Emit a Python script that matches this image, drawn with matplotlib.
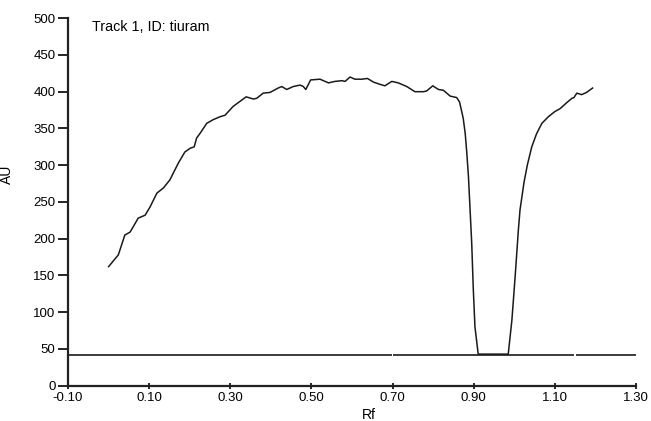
import numpy as np
import matplotlib
matplotlib.use("Agg")
import matplotlib.pyplot as plt
from matplotlib.ticker import FormatStrFormatter

plt.rcParams["font.family"] = ["Liberation Sans", "DejaVu Sans"]
plt.rcParams["axes.unicode_minus"] = False

# densitogram trace
rf = [0.000, 0.024, 0.040, 0.053, 0.073, 0.090, 0.102, 0.119, 0.135, 0.151,
      0.172, 0.188, 0.201, 0.211, 0.217, 0.225, 0.242, 0.258, 0.275, 0.287,
      0.307, 0.339, 0.357, 0.365, 0.381, 0.398, 0.418, 0.427, 0.439, 0.455,
      0.472, 0.480, 0.486, 0.498, 0.521, 0.542, 0.558, 0.575, 0.583, 0.595,
      0.607, 0.624, 0.638, 0.653, 0.669, 0.681, 0.698, 0.714, 0.735, 0.755,
      0.776, 0.784, 0.799, 0.813, 0.825, 0.842, 0.858, 0.865, 0.874, 0.879,
      0.883, 0.887, 0.891, 0.895, 0.899, 0.903, 0.911, 0.985, 0.994, 1.002,
      1.010, 1.014, 1.024, 1.032, 1.043, 1.055, 1.068, 1.084, 1.100, 1.113,
      1.129, 1.142, 1.147, 1.154, 1.166, 1.178, 1.193]
au = [162, 178, 205, 209, 228, 232, 243, 262, 269, 280,
      303, 318, 323, 325, 337, 343, 357, 362, 366, 368,
      380, 393, 390, 391, 398, 399, 405, 407, 403, 407,
      409, 407, 403, 416, 417, 412, 414, 415, 414, 420,
      417, 417, 418, 413, 410, 408, 414, 412, 407, 400,
      400, 401, 408, 403, 402, 394, 392, 386, 364, 343,
      316, 284, 239, 194, 130, 80, 43, 43, 89, 148,
      212, 239, 277, 300, 325, 343, 357, 366, 373, 377,
      385, 391, 392, 398, 396, 399, 405]

baseline_level = 42
baseline_segments = [(-0.10, 0.698), (0.702, 1.148), (1.152, 1.30)]

x_ticks = [-0.10, 0.10, 0.30, 0.50, 0.70, 0.90, 1.10, 1.30]
y_ticks = list(range(0, 501, 50))
track_label = "Track 1, ID: tiuram"

fig = plt.figure(figsize=(6.51, 4.21), dpi=100)
ax = fig.add_axes([0.1045, 0.0838, 0.8725, 0.873])

for x0, x1 in baseline_segments:
    ax.plot([x0, x1], [baseline_level, baseline_level], color="#1a1a1a", lw=1.2,
            solid_capstyle="butt")
ax.plot(rf, au, color="#1a1a1a", lw=1.1)

ax.set_xlim(-0.10, 1.30)
ax.set_ylim(0, 500)
ax.set_xticks(x_ticks)
ax.set_yticks(y_ticks)
ax.xaxis.set_major_formatter(FormatStrFormatter("%.2f"))

for side in ["top", "right"]:
    ax.spines[side].set_visible(False)
for side in ["left", "bottom"]:
    ax.spines[side].set_linewidth(1.6)
    ax.spines[side].set_color("#222222")

ax.tick_params(axis="y", direction="out", length=7, width=1.2, labelsize=9.5, pad=2)
ax.tick_params(axis="x", direction="inout", length=5, width=1.2, labelsize=9.5, pad=2)

ax.set_xlabel("Rf", fontsize=10)
ax.xaxis.set_label_coords(0.53, -0.06)
ax.set_ylabel("AU", fontsize=10)
ax.yaxis.set_label_coords(-0.095, 0.576)

ax.text(0.042, 0.975, track_label, transform=ax.transAxes, fontsize=10.3,
        va="center", ha="left")

fig.savefig("out.png", dpi=100)
plt.close(fig)
